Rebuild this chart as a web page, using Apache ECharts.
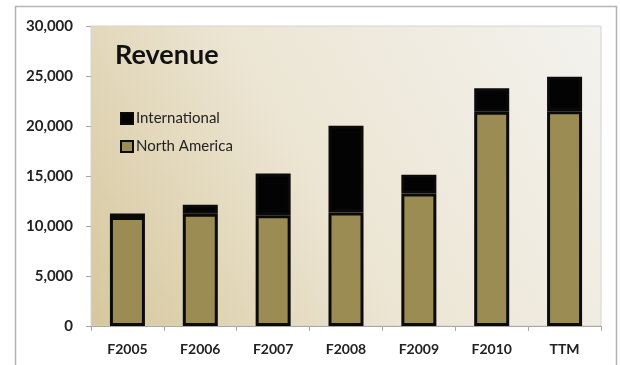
<!DOCTYPE html>
<html><head><meta charset="utf-8">
<script src="https://cdn.jsdelivr.net/npm/echarts@6/dist/echarts.min.js"></script>
<style>html,body{margin:0;padding:0;background:#fff}#c{width:620px;height:365px}</style>
</head><body><div id="c"></div>
<script>
const categories = ['F2005','F2006','F2007','F2008','F2009','F2010','TTM'];
const northAmerica = [10900, 11230, 11080, 11350, 13250, 21420, 21480];
const international = [350, 890, 4170, 8670, 1870, 2360, 3440];
const yTicks = [0, 5000, 10000, 15000, 20000, 25000, 30000];

const chart = echarts.init(document.getElementById('c'), null, {renderer:'canvas'});
const font = 'Lato, "Open Sans", sans-serif';
chart.setOption({
  animation: false,
  backgroundColor: '#fff',
  graphic: [{type:'rect', shape:{x:15.5, y:6.5, width:601, height:380}, style:{fill:'none', stroke:'#b4b4b4', lineWidth:1.5}, z:-1}],
  title: {text:'Revenue', left:110, top:37, textStyle:{fontFamily:font, fontWeight:'bold', fontSize:27, color:'#111'}},
  legend: {
    orient:'vertical', left:115, top:106, itemGap:13, itemWidth:12, itemHeight:11, icon:'rect',
    data:['International','North America'],
    textStyle:{fontFamily:font, fontSize:15, color:'#222', padding:[0,0,0,-2]}
  },
  grid: {left:91, right:19, top:26, bottom:39, show:true,
    backgroundColor:{type:'linear', x:0, y:1, x2:1, y2:0, colorStops:[
      {offset:0, color:'#d6c79c'}, {offset:0.45, color:'#ece5d3'}, {offset:1, color:'#f3f2ee'}]},
    borderColor:'#d4d4d4', borderWidth:1},
  xAxis: {type:'category', data:categories,
    axisLine:{lineStyle:{color:'#a8a8a8'}},
    axisTick:{show:true, length:5, lineStyle:{color:'#a8a8a8'}},
    axisLabel:{fontFamily:font, fontWeight:'bold', fontSize:14, color:'#222', margin:16}},
  yAxis: {type:'value', min:0, max:30000, interval:5000,
    axisLine:{show:false},
    axisTick:{show:true, length:5, lineStyle:{color:'#a8a8a8'}},
    splitLine:{show:false},
    axisLabel:{fontFamily:font, fontWeight:'bold', fontSize:15, color:'#222', margin:18,
      formatter: v => yTicks.includes(v) ? v.toLocaleString('en-US') : ''}},
  series: [
    {name:'North America', type:'bar', stack:'r', data:northAmerica, barWidth:35,
      itemStyle:{color:'#9a8c53', borderColor:'#0a0a0a', borderWidth:3}},
    {name:'International', type:'bar', stack:'r', data:international, barWidth:35,
      itemStyle:{color:'#030303', borderColor:'#0a0a0a', borderWidth:3}}
  ]
});
</script></body></html>
